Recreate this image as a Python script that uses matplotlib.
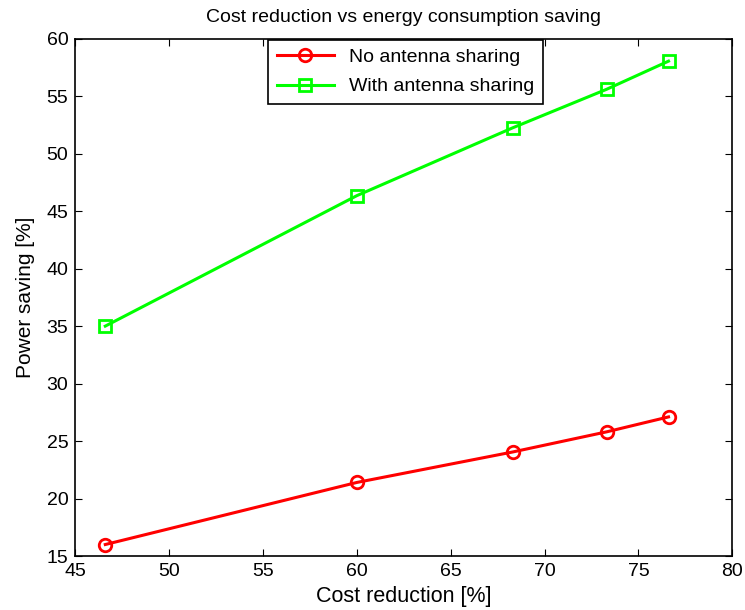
import matplotlib
matplotlib.use('Agg')
import matplotlib.pyplot as plt

plt.rcParams['font.family'] = ['Liberation Sans', 'DejaVu Sans']

cost_reduction = [46.6, 60.0, 68.3, 73.3, 76.6]
saving_no_sharing = [16.0, 21.4, 24.05, 25.8, 27.1]
saving_with_sharing = [35.0, 46.35, 52.25, 55.6, 58.05]

fig = plt.figure(figsize=(7.45, 6.1), dpi=100)
ax = fig.add_axes([0.101, 0.0885, 0.882, 0.848])

ax.plot(cost_reduction, saving_no_sharing, color='#ff0000', lw=2.2, marker='o',
        ms=9, mfc='none', mew=2, label='No antenna sharing')
ax.plot(cost_reduction, saving_with_sharing, color='#00ff00', lw=2.2, marker='s',
        ms=9, mfc='none', mew=2, label='With antenna sharing')

ax.set_xlim(45, 80)
ax.set_ylim(15, 60)
ax.set_xticks(range(45, 81, 5))
ax.set_yticks(range(15, 61, 5))
ax.tick_params(direction='in', top=True, right=True, length=5, labelsize=14, pad=5)
for s in ax.spines.values():
    s.set_linewidth(1.2)

ax.set_xlabel('Cost reduction [%]', fontsize=15.5, labelpad=4)
ax.set_ylabel('Power saving [%]', fontsize=15, labelpad=8)
ax.set_title('Cost reduction vs energy consumption saving', fontsize=14, pad=12)

leg = ax.legend(loc='upper left', bbox_to_anchor=(0.294, 0.998), borderaxespad=0,
                fontsize=14, fancybox=False, edgecolor='black', framealpha=1,
                handlelength=2.9, handletextpad=0.8, borderpad=0.45, labelspacing=0.6)
leg.get_frame().set_linewidth(1.2)

fig.savefig('out.png', dpi=100)
